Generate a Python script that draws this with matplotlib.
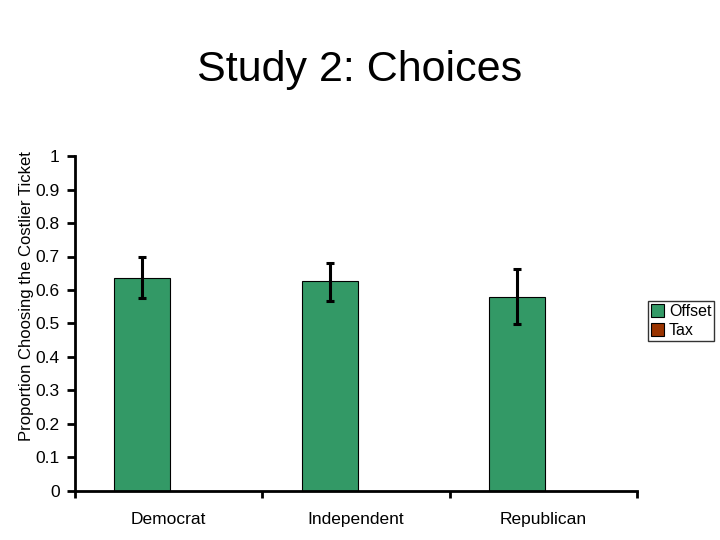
import numpy as np
import matplotlib
matplotlib.use("Agg")
import matplotlib.pyplot as plt
from matplotlib.patches import Patch

plt.rcParams["font.family"] = ["Liberation Sans", "DejaVu Sans"]

categories = ["Democrat", "Independent", "Republican"]
offset_vals = [0.636, 0.626, 0.578]
offset_err_low = [0.060, 0.058, 0.080]
offset_err_high = [0.063, 0.055, 0.086]
tax_vals = [0.0, 0.0, 0.0]
yticks = [0, 0.1, 0.2, 0.3, 0.4, 0.5, 0.6, 0.7, 0.8, 0.9, 1]
ytick_labels = ["0", "0.1", "0.2", "0.3", "0.4", "0.5", "0.6", "0.7", "0.8", "0.9", "1"]

GREEN = "#339966"
RUST = "#993300"

fig = plt.figure(figsize=(7.2, 5.4), dpi=100)
ax = fig.add_axes([0.104, 0.091, 0.781, 0.620])

xs = np.arange(len(categories))
w = 0.3
ax.bar(xs - w / 2 + 0.01, offset_vals, w, color=GREEN, edgecolor="black", lw=0.8, zorder=2)
ax.bar(xs + w / 2 + 0.01, tax_vals, w, color=RUST, edgecolor="none", zorder=2)
ax.errorbar(xs - w / 2 + 0.01, offset_vals, yerr=[offset_err_low, offset_err_high],
            fmt="none", ecolor="black", elinewidth=2.2, capsize=3, capthick=2.2, zorder=3)

ax.set_xlim(-0.5, len(categories) - 0.5)
ax.set_ylim(0, 1)
ax.set_yticks(yticks)
ax.set_yticklabels(ytick_labels, fontsize=12.5)
ax.set_xticks(np.arange(-0.5, len(categories), 1.0))
ax.set_xticklabels([])
ax.set_xticks(xs, minor=True)
ax.set_xticklabels(categories, minor=True, fontsize=12.5)
ax.tick_params(axis="x", which="minor", length=0, pad=15)
ax.tick_params(axis="x", which="major", length=5, width=2, direction="out")
ax.tick_params(axis="y", length=6, width=2, direction="out", pad=5)

for s in ["top", "right"]:
    ax.spines[s].set_visible(False)
for s in ["left", "bottom"]:
    ax.spines[s].set_linewidth(2)

ax.set_ylabel("Proportion Choosing the Costlier Ticket", fontsize=12)
ax.yaxis.set_label_coords(-0.072, 0.582)

handles = [Patch(facecolor=GREEN, edgecolor="black", lw=0.8, label="Offset"),
           Patch(facecolor=RUST, edgecolor="black", lw=0.8, label="Tax")]
fig.legend(handles=handles, loc="upper left", bbox_to_anchor=(0.9, 0.443),
           fontsize=11.5, frameon=True, fancybox=False, edgecolor="black",
           handlelength=0.8, handleheight=0.8, handletextpad=0.3,
           borderpad=0.2, labelspacing=0.25, borderaxespad=0)

fig.text(0.5, 0.87, "Study 2: Choices", fontsize=31, ha="center", va="center")

fig.savefig("out.png", dpi=100)
